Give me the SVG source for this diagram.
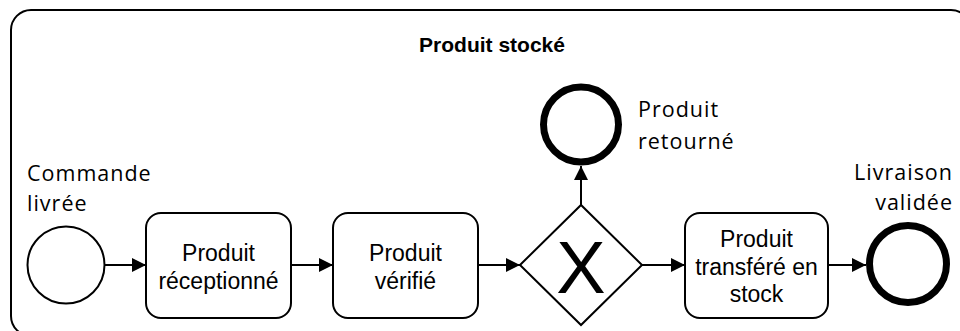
<svg xmlns="http://www.w3.org/2000/svg" width="960" height="331" viewBox="0 0 960 331">
<defs>
<marker id="arr" markerUnits="userSpaceOnUse" markerWidth="14" markerHeight="14" refX="14" refY="7" orient="auto">
<path d="M0,0 L14,7 L0,14 z" fill="#000"/>
</marker>
<style>
.task{fill:#fff;stroke:#000;stroke-width:2}
.tt{font-family:"Liberation Sans",Arial,sans-serif;font-size:23px;text-anchor:middle;fill:#000}
.lbl{font-family:"Open Sans","Noto Sans",sans-serif;font-size:21.5px;letter-spacing:1px;fill:#000}
.conn{stroke:#000;stroke-width:2;fill:none;marker-end:url(#arr)}
</style>
</defs>
<g id="pool">
<rect x="11" y="10" width="960" height="326" rx="20" ry="20" fill="#fff" stroke="#000" stroke-width="2"/>
<text x="492" y="52" font-family="Liberation Sans,Arial,sans-serif" font-size="21" font-weight="bold" text-anchor="middle">Produit stocké</text>
</g>
<g id="start">
<circle cx="66" cy="265" r="38.5" fill="#fff" stroke="#000" stroke-width="2"/>
<text class="lbl"><tspan x="27" y="181">Commande</tspan><tspan x="27" y="211">livrée</tspan></text>
</g>
<g id="task1">
<rect class="task" x="146" y="213" width="145" height="105" rx="15"/>
<text class="tt"><tspan x="218.5" y="261">Produit</tspan><tspan x="218.5" y="289">réceptionné</tspan></text>
</g>
<g id="task2">
<rect class="task" x="333" y="213" width="145" height="105" rx="15"/>
<text class="tt"><tspan x="405.5" y="261">Produit</tspan><tspan x="405.5" y="289">vérifié</tspan></text>
</g>
<g id="gateway">
<path d="M520,265 L581,205 L642,265 L581,325 z" fill="#fff" stroke="#000" stroke-width="2"/>
<text x="581" y="293" font-family="Liberation Sans,Arial,sans-serif" font-size="74" text-anchor="middle">X</text>
</g>
<g id="end1">
<circle cx="581" cy="124.5" r="37.5" fill="#fff" stroke="#000" stroke-width="7"/>
<text class="lbl"><tspan x="638" y="117">Produit</tspan><tspan x="638" y="149">retourné</tspan></text>
</g>
<g id="task3">
<rect class="task" x="685" y="213" width="143" height="105" rx="15"/>
<text class="tt"><tspan x="756.5" y="247">Produit</tspan><tspan x="756.5" y="275">transféré en</tspan><tspan x="756.5" y="302">stock</tspan></text>
</g>
<g id="end2">
<circle cx="908" cy="264" r="38.5" fill="#fff" stroke="#000" stroke-width="7"/>
<text class="lbl" text-anchor="end"><tspan x="953" y="180">Livraison</tspan><tspan x="953" y="210">validée</tspan></text>
</g>
<g id="connectors">
<line class="conn" x1="105" y1="265" x2="146" y2="265"/>
<line class="conn" x1="291" y1="265" x2="333" y2="265"/>
<line class="conn" x1="478" y1="265" x2="520" y2="265"/>
<line class="conn" x1="642" y1="265" x2="685" y2="265"/>
<line class="conn" x1="828" y1="265" x2="866" y2="265"/>
<line class="conn" x1="581" y1="205" x2="581" y2="166"/>
</g>
</svg>
